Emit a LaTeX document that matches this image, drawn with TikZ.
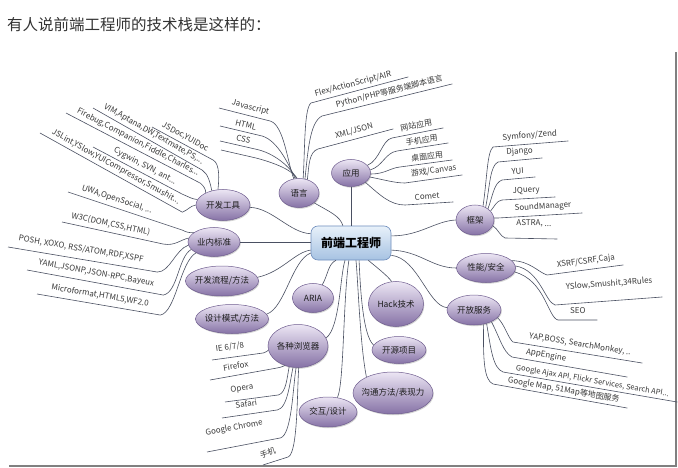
\documentclass[tikz,border=0pt]{standalone}
\usepackage{fontspec}
\setmainfont{Noto Sans CJK SC}
\usetikzlibrary{shapes.geometric,shadows}
\definecolor{conncol}{HTML}{4A5062}
\definecolor{leaftext}{HTML}{3A3A3A}
\definecolor{elltop}{HTML}{ECE6F4}
\definecolor{ellbot}{HTML}{8672A6}
\definecolor{ellline}{HTML}{6E5C8E}
\definecolor{elltext}{HTML}{1C1C1C}
\definecolor{ctrtop}{HTML}{E8F1FA}
\definecolor{ctrbot}{HTML}{A6C2E2}
\definecolor{ctrline}{HTML}{6F8EBD}
\definecolor{titlecol}{HTML}{333333}
\definecolor{framecol}{HTML}{808080}
\newcommand\ez[1]{\makebox[0pt]{#1}}
\newcommand\leafnode[8][4]{%
  \pgfmathsetmacro\lfang{atan(((#4)-(#6))/((#5)-(#3)))}%
  \pgfmathsetmacro\lflen{veclen((#5)-(#3),(#6)-(#4))}%
  \node[leaf, inner ysep=#1pt, rotate=\lfang, anchor=south west] (#2) at (#3,#4) {\makebox[\lflen pt][l]{\hspace*{#7pt}#8}};%
}
\begin{document}
\begin{tikzpicture}[x=1pt,y=-1pt,
  conn/.style={draw=conncol, line width=0.6pt},
  ell/.style={ellipse, draw=ellline, line width=0.5pt, top color=elltop, bottom color=ellbot, inner sep=0pt,
    font=\fontsize{8.5}{10}\selectfont, text=elltext,
    drop shadow={shadow xshift=0.8pt, shadow yshift=-1.2pt, opacity=0.25, fill=black!70}},
  leaf/.style={font=\fontsize{8}{9}\selectfont, text=leaftext, inner xsep=0pt},
]
\useasboundingbox (0,0) rectangle (678,468);
\fill[white] (0,0) rectangle (678,468);

% title
\node[anchor=west, inner sep=0pt, font=\fontsize{15.5}{17}\selectfont, text=titlecol] (title) at (7,25) {有人说前端工程师的技术栈是这样的：};

% frame
\draw[framecol, line width=1.4pt] (9,466) -- (676,466) -- (676,52);

% center
\node[draw=ctrline, line width=0.6pt, rounded corners=7pt, top color=ctrtop, bottom color=ctrbot,
  minimum width=80pt, minimum height=34pt, inner sep=0pt, font=\bfseries\fontsize{12}{14}\selectfont] (ctr) at (351,243) {前端工程师};

% branch nodes
\node[ell, minimum width=40pt, minimum height=29pt] (yy) at (299,193) {\ez{语言}};
\node[ell, minimum width=39pt, minimum height=27pt] (app) at (351,173) {\ez{应用}};
\node[ell, minimum width=54pt, minimum height=31pt] (kfgj) at (223,205) {\ez{开发工具}};
\node[ell, minimum width=52pt, minimum height=29pt] (yn) at (214,242) {\ez{业内标准}};
\node[ell, minimum width=73pt, minimum height=30pt] (lc) at (222,281) {\ez{开发流程/方法}};
\node[ell, minimum width=73pt, minimum height=29pt] (sj) at (232,319) {\ez{设计模式/方法}};
\node[ell, minimum width=41pt, minimum height=29pt] (aria) at (313,298) {\ez{ARIA}};
\node[ell, minimum width=55pt, minimum height=45pt] (hk) at (396,304) {\ez{Hack技术}};
\node[ell, minimum width=54pt, minimum height=27pt] (ky) at (399,350) {\ez{开源项目}};
\node[ell, minimum width=60pt, minimum height=43pt] (br) at (298,346) {\ez{各种浏览器}};
\node[ell, minimum width=80pt, minimum height=42pt] (gt) at (393,393) {\ez{沟通方法/表现力}};
\node[ell, minimum width=58pt, minimum height=30pt] (jh) at (328,412) {\ez{交互/设计}};
\node[ell, minimum width=38pt, minimum height=30pt] (kj) at (475,220) {\ez{框架}};
\node[ell, minimum width=59pt, minimum height=29pt] (xn) at (486,268) {\ez{性能/安全}};
\node[ell, minimum width=54pt, minimum height=30pt] (kf) at (474,310) {\ez{开放服务}};

% branch connectors
\draw[conn] (yy.-33) .. controls (330,212) and (340,216) .. (ctr.115);
\draw[conn] (app.south) -- (ctr.north);
\draw[conn] (kfgj.-5) .. controls (272,208) and (290,233) .. (ctr.167);
\draw[conn] (yn.east) -- (yn.east -| ctr.west);
\draw[conn] (lc.6) .. controls (282,272) and (295,252) .. (ctr.-170);
\draw[conn] (sj.8) .. controls (285,308) and (292,260) .. (ctr.-166);
\draw[conn] (aria.55) .. controls (328,275) and (328,264) .. (ctr.-131);
\draw[conn] (br.16) .. controls (340,328) and (340,275) .. (ctr.-109);
\draw[conn] (jh.57) .. controls (344,385) and (343,300) .. (ctr.-97);
\draw[conn] (gt.149) .. controls (360,345) and (358,280) .. (ctr.-74);
\draw[conn] (ky.169) .. controls (362,335) and (360,280) .. (ctr.-65);
\draw[conn] (hk.101) .. controls (388,276) and (375,266) .. (ctr.-45);
\draw[conn] (ctr.10) .. controls (420,236) and (435,221) .. (kj.180);
\draw[conn] (ctr.-10) .. controls (420,251) and (432,268) .. (xn.180);
\draw[conn] (ctr.-17) .. controls (418,258) and (428,306) .. (kf.175);

% 语言 leaves
\leafnode{js}{219}{108}{270}{121}{11}{Javascript}
\draw[conn] (js.south west) -- (js.south east) .. controls (284,125) and (288,165) .. (yy.110);
\leafnode{html}{220}{126}{262}{136}{14}{HTML}
\draw[conn] (html.south west) -- (html.south east) .. controls (278,141) and (289,165) .. (yy.105);
\leafnode{css}{220}{141}{255}{149}{15}{CSS}
\draw[conn] (css.south west) -- (css.south east) .. controls (275,153) and (291,168) .. (yy.100);
\coordinate (bl1) at (221,150);
\coordinate (bl2) at (256,158);
\draw[conn] (bl1) -- (bl2) .. controls (275,163) and (292,170) .. (yy.97);
\leafnode[3]{flex}{311}{103}{408}{77}{6}{Flex/ActionScript/AIR}
\draw[conn] (yy.74) .. controls (305,150) and (304,108) .. (flex.south west) -- (flex.south east);
\leafnode[3]{py}{322}{116}{452}{84}{16}{Python/PHP等服务端脚本语言}
\draw[conn] (yy.67) .. controls (308,150) and (310,122) .. (py.south west) -- (py.south east);
\leafnode{xml}{318}{149}{393}{129}{20}{XML/JSON}
\draw[conn] (yy.58) .. controls (309,165) and (309,152) .. (xml.south west) -- (xml.south east);

% 应用 leaves
\leafnode{wz}{392}{138}{443}{128}{10}{网站应用}
\draw[conn] (app.25) .. controls (380,160) and (382,140) .. (wz.south west) -- (wz.south east);
\leafnode[3]{sjyy}{397}{151}{448}{143}{10}{手机应用}
\draw[conn] (app.9) .. controls (383,166) and (385,153) .. (sjyy.south west) -- (sjyy.south east);
\leafnode[3]{zm}{400}{167}{452}{160}{12}{桌面应用}
\draw[conn] (app.-3) .. controls (385,174) and (390,168) .. (zm.south west) -- (zm.south east);
\leafnode{yx}{405}{183}{462}{175}{7}{游戏/Canvas}
\draw[conn] (app.-12) .. controls (385,180) and (395,183) .. (yx.south west) -- (yx.south east);
\leafnode{comet}{405}{205}{453}{202}{10}{Comet}
\draw[conn] (app.-33) .. controls (380,195) and (390,205) .. (comet.south west) -- (comet.south east);

% 框架 leaves
\leafnode{sym}{493}{147}{568}{141}{10}{Symfony/Zend}
\draw[conn] (kj.60) .. controls (487,180) and (487,152) .. (sym.south west) -- (sym.south east);
\leafnode{dj}{498}{162}{542}{158}{9}{Django}
\draw[conn] (kj.50) .. controls (490,185) and (490,166) .. (dj.south west) -- (dj.south east);
\leafnode{yui}{502}{180}{535}{177}{10}{YUI}
\draw[conn] (kj.41) .. controls (493,195) and (494,183) .. (yui.south west) -- (yui.south east);
\leafnode{jq}{502}{200}{555}{197}{11}{JQuery}
\draw[conn] (kj.30) .. controls (495,206) and (496,201) .. (jq.south west) -- (jq.south east);
\leafnode{sm}{498}{218}{582}{213}{17}{SoundManager}
\draw[conn] (kj.6) .. controls (495,218) and (496,218) .. (sm.south west) -- (sm.south east);
\leafnode[11]{astra}{505}{238}{557}{239}{11}{ASTRA, ...}
\draw[conn] (kj.-18) .. controls (498,229) and (500,236) .. (astra.south west) -- (astra.south east);

% 性能/安全 leaves
\leafnode{xsrf}{547}{275}{623}{265}{11}{XSRF/CSRF,Caja}
\draw[conn] (xn.16) .. controls (530,261) and (538,272) .. (xsrf.south west) -- (xsrf.south east);
\leafnode[13]{ysl}{555}{305}{662}{297}{12}{YSlow,Smushit,34Rules}
\draw[conn] (xn.4) .. controls (540,270) and (545,302) .. (ysl.south west) -- (ysl.south east);
\leafnode[6]{seo}{558}{320}{597}{320}{12}{SEO}
\draw[conn] (xn.-8) .. controls (545,280) and (548,318) .. (seo.south west) -- (seo.south east);

% 开放服务 leaves
\leafnode{yap}{513}{342}{642}{363}{15}{YAP,BOSS, SearchMonkey, ..}
\draw[conn] (kf.-18) .. controls (505,325) and (508,338) .. (yap.south west) -- (yap.south east);
\leafnode[3]{ae}{512}{357}{627}{377}{13}{AppEngine}
\draw[conn] (kf.-34) .. controls (500,338) and (503,352) .. (ae.south west) -- (ae.south east);
\leafnode[2]{gaj}{503}{372}{677}{402}{12}{\fontsize{7.5}{9}\selectfont Google Ajax API, Flickr Services, Search API...}
\draw[conn] (kf.-47) .. controls (491,350) and (493,368) .. (gaj.south west) -- (gaj.south east);
\leafnode[2]{gm}{493}{384}{627}{408}{14}{Google Map, 51Map等地图服务}
\draw[conn] (kf.-56) .. controls (483,360) and (484,380) .. (gm.south west) -- (gm.south east);

% 业内标准 leaves
\leafnode{uwa}{68}{192}{182}{230}{12}{UWA,OpenSocial, ...}
\draw[conn] (uwa.south west) -- (uwa.south east) .. controls (186,232) and (189,233) .. (yn.155);
\leafnode{w3c}{62}{222}{163}{244}{8}{W3C(DOM,CSS,HTML)}
\draw[conn] (w3c.south west) -- (w3c.south east) .. controls (175,246) and (180,240) .. (yn.171);
\leafnode[6]{posh}{8}{247}{157}{272}{9}{POSH, XOXO, RSS/ATOM,RDF,XSPF}
\draw[conn] (posh.south west) -- (posh.south east) .. controls (170,272) and (175,250) .. (yn.-173);
\leafnode[5]{yaml}{27}{270}{163}{295}{10}{YAML,JSONP,JSON-RPC,Bayeux}
\draw[conn] (yaml.south west) -- (yaml.south east) .. controls (178,292) and (178,257) .. (yn.-162);
\leafnode[5]{mf}{37}{294}{160}{315}{13}{Microformat,HTML5,WF2.0}
\draw[conn] (mf.south west) -- (mf.south east) .. controls (176,312) and (180,262) .. (yn.-149);

% 开发工具 leaves
\leafnode[3]{jsd}{152}{127}{213}{160}{8}{JSDoc,YUIDoc}
\draw[conn] (jsd.south west) -- (jsd.south east) .. controls (220,164) and (219,180) .. (kfgj.108);
\leafnode[3]{vim}{93}{108}{202}{170}{9}{VIM,Aptana,DW,Textmate,PS,...}
\draw[conn] (vim.south west) -- (vim.south east) .. controls (208,174) and (210,182) .. (kfgj.128);
\leafnode[3]{fb}{66}{113}{200}{183}{9}{Firebug,Companion,Fiddle,Charles...}
\draw[conn] (fb.south west) -- (fb.south east) .. controls (204,186) and (206,190) .. (kfgj.145);
\leafnode[3]{cyg}{93}{147}{182}{194}{20}{Cygwin, SVN, ant...}
\draw[conn] (cyg.south west) -- (cyg.south east) .. controls (189,197) and (192,199) .. (kfgj.168);
\leafnode[3]{jsl}{40}{133}{182}{212}{10}{JSLint,YSlow,YUICompressor,Smushit...}
\draw[conn] (jsl.south west) -- (jsl.south east) .. controls (188,210) and (190,206) .. (kfgj.180);

% 各种浏览器 leaves
\leafnode[6]{ie}{212}{360}{263}{353}{5}{IE 6/7/8}
\draw[conn] (ie.south west) -- (ie.south east) .. controls (266,352) and (268,351) .. (br.-172);
\leafnode[6]{ff}{210}{380}{277}{368}{15}{Firefox}
\draw[conn] (ff.south west) -- (ff.south east) .. controls (282,367) and (284,366) .. (br.-124);
\leafnode[7]{op}{225}{402}{278}{395}{7}{Opera}
\draw[conn] (op.south west) -- (op.south east) .. controls (286,393) and (287,378) .. (br.-113);
\leafnode[7]{sf}{222}{418}{277}{410}{15}{Safari}
\draw[conn] (sf.south west) -- (sf.south east) .. controls (288,408) and (290,380) .. (br.-103);
\leafnode[14]{gc}{207}{452}{280}{438}{2}{Google Chrome}
\draw[conn] (gc.south west) -- (gc.south east) .. controls (292,435) and (293,385) .. (br.-95);
\leafnode[6]{phone}{263}{465}{288}{457}{0}{手机}
\draw[conn] (phone.south west) -- (phone.south east) .. controls (298,452) and (297,390) .. (br.-88);
\end{tikzpicture}
\end{document}
